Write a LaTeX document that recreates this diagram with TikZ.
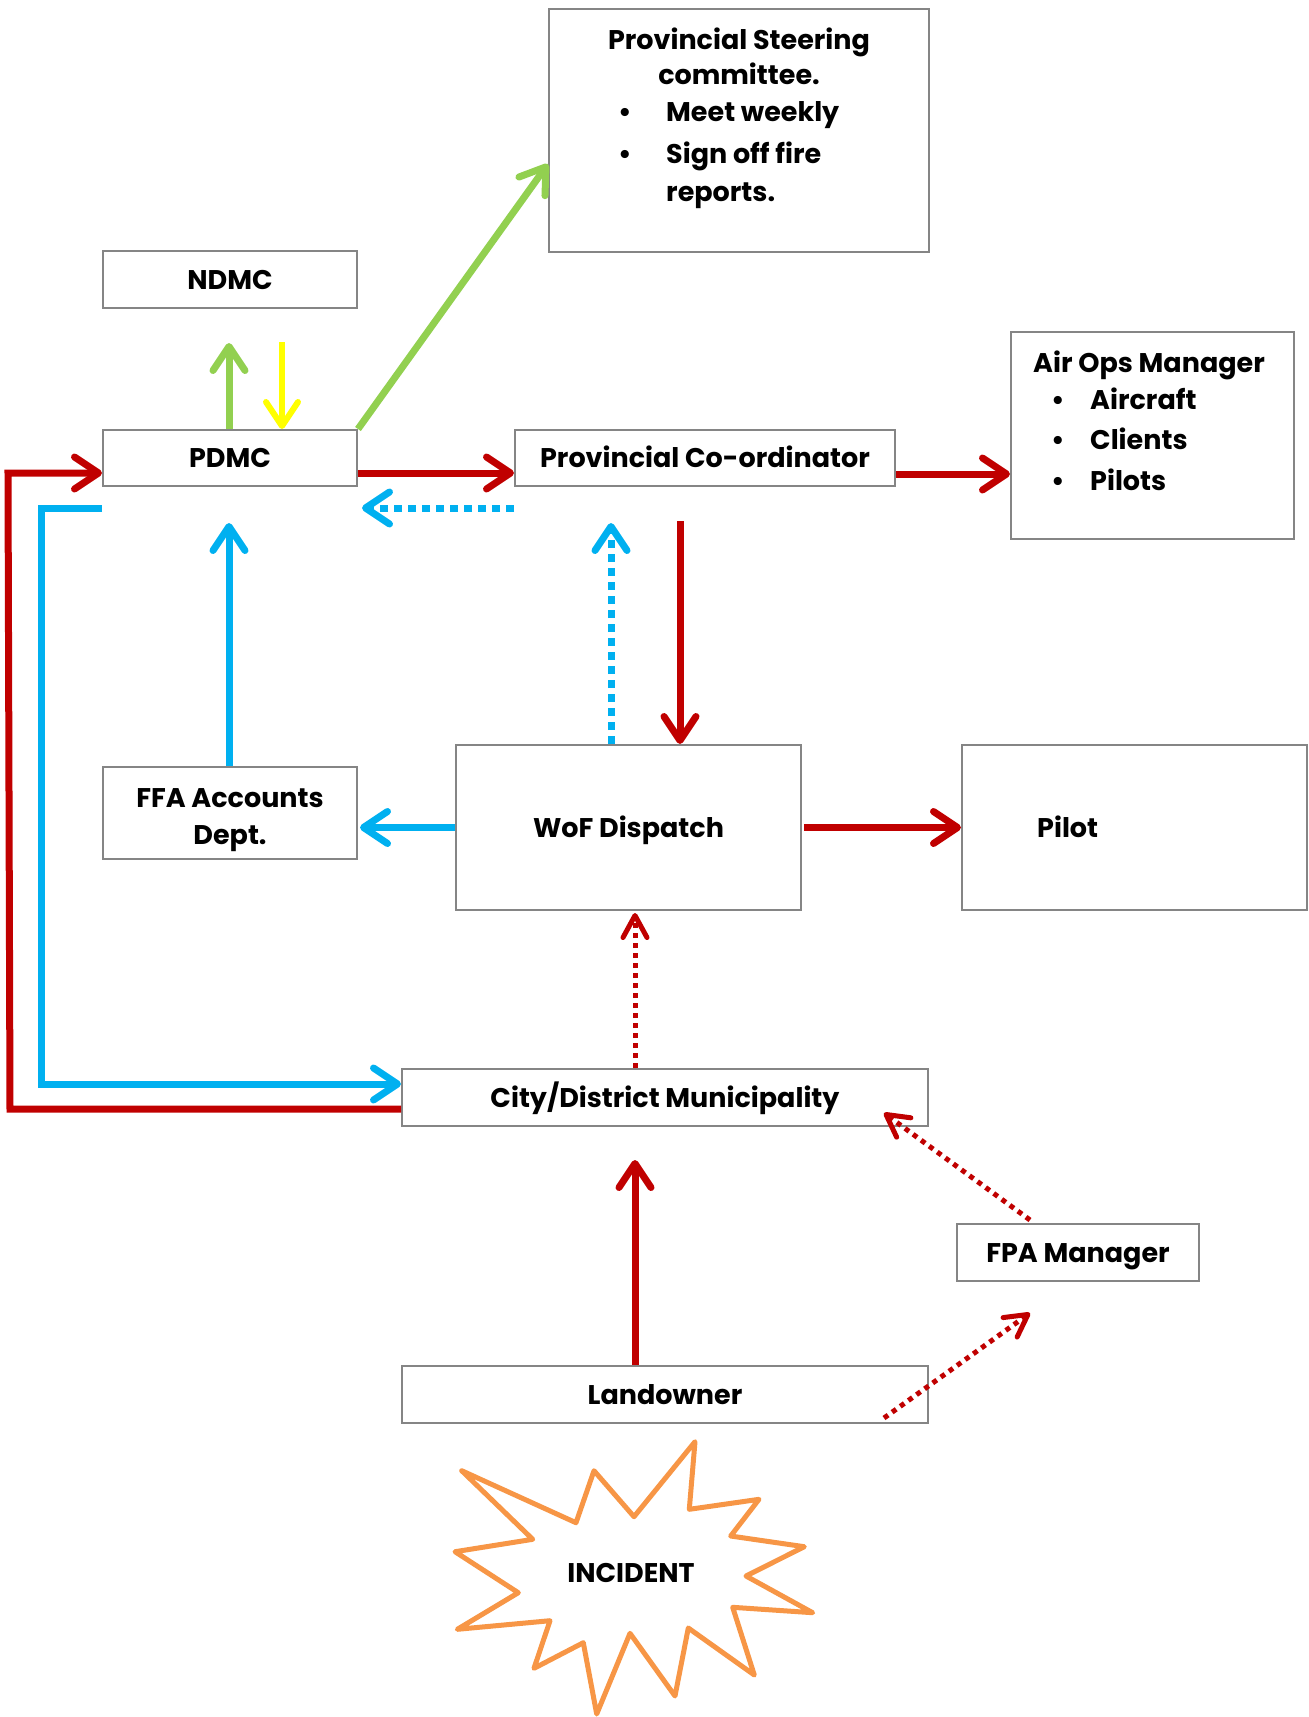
\documentclass[tikz,border=0pt]{standalone}
\usepackage{fontspec}
\setmainfont{Poppins}
\usetikzlibrary{arrows.meta,calc}

\definecolor{linered}{HTML}{C00000}
\definecolor{lineblue}{HTML}{00B0F0}
\definecolor{linegreen}{HTML}{92D050}
\definecolor{lineyellow}{HTML}{FFFF00}
\definecolor{starorange}{HTML}{F79646}
\definecolor{boxgray}{HTML}{858585}

\tikzset{
  box/.style={draw=boxgray, line width=2pt, fill=white, inner sep=0pt,
    font=\fontsize{27}{36}\selectfont\bfseries, text height=19pt, text depth=0pt},
  label/.style={inner sep=0pt, font=\fontsize{27}{36}\selectfont\bfseries},
  solidarr/.style={line width=7pt,
    -{Straight Barb[length=24pt,width=32pt,round]}},
  dotarr/.style={line width=7pt, dash pattern=on 8pt off 6pt,
    -{Straight Barb[length=24pt,width=32pt,round]}},
  smalldot/.style={line width=5pt, dash pattern=on 5pt off 5pt,
    -{Straight Barb[length=22pt,width=24pt,round]}},
}

\begin{document}
\begin{tikzpicture}[x=1pt,y=-1pt]
\useasboundingbox (0,0) rectangle (1309,1717);

% boxes
\node[box, minimum width=380pt, minimum height=243pt] (steer) at (739,130.5) {};
\node[box, minimum width=254pt, minimum height=57pt] (ndmc) at (230,279.5) {NDMC};
\node[box, minimum width=254pt, minimum height=56pt] (pdmc) at (230,458) {PDMC};
\node[box, minimum width=380pt, minimum height=56pt] (prov) at (705,458) {Provincial Co-ordinator};
\node[box, minimum width=283pt, minimum height=207pt] (airops) at (1152.5,435.5) {};
\node[box, minimum width=254pt, minimum height=92pt] (ffa) at (230,813) {};
\node[box, minimum width=345pt, minimum height=165pt] (wof) at (628.5,827.5) {WoF Dispatch};
\node[box, minimum width=345pt, minimum height=165pt] (pilot) at (1134.5,827.5) {};
\node[box, minimum width=526pt, minimum height=57pt] (city) at (665,1097.5) {City/District Municipality};
\node[box, minimum width=242pt, minimum height=57pt] (fpa) at (1078,1252.5) {FPA Manager};
\node[box, minimum width=526pt, minimum height=57pt] (land) at (665,1394.5) {Landowner};

% accounts text
\node[label, anchor=base] (ffa1) at (230,807) {FFA Accounts};
\node[label, anchor=base] (ffa2) at (230,844) {Dept.};

% steering committee text
\node[label, anchor=base] (steer1) at (739,49) {Provincial Steering};
\node[label, anchor=base] (steer2) at (739,84) {committee.};
\node[label, anchor=base] (steerb1) at (625,121) {\textbullet};
\node[label, anchor=base west] (steer3) at (666,121) {Meet weekly};
\node[label, anchor=base] (steerb2) at (625,163) {\textbullet};
\node[label, anchor=base west] (steer4) at (666,163) {Sign off fire};
\node[label, anchor=base west] (steer5) at (666,201) {reports.};

% air operations text
\node[label, anchor=base west] (air1) at (1033,372) {Air Ops Manager};
\node[label, anchor=base] (airb1) at (1058,409) {\textbullet};
\node[label, anchor=base west] (air2) at (1090,409) {Aircraft};
\node[label, anchor=base] (airb2) at (1058,449) {\textbullet};
\node[label, anchor=base west] (air3) at (1090,449) {Clients};
\node[label, anchor=base] (airb3) at (1058,490) {\textbullet};
\node[label, anchor=base west] (air4) at (1090,490) {Pilots};

% pilot text
\node[label, anchor=west, text height=19pt, text depth=0pt] (pilottext) at ([xshift=76pt]pilot.west) {Pilot};

% incident star
\draw[starorange, line width=5pt, line join=round, fill=white]
  (461.7,1470.7) -- (576,1522.7) -- (594,1470.7) -- (634,1516.7)
  -- (695,1441.7) -- (689.3,1509.3) -- (759,1499.3) -- (730.7,1536)
  -- (804.3,1546.7) -- (746,1576) -- (812.7,1612.7) -- (732.7,1607.3)
  -- (754.3,1675) -- (688.3,1628) -- (675,1696) -- (630,1633.3)
  -- (596.7,1714) -- (583.3,1642.7) -- (534,1668.3) -- (550,1620.7)
  -- (457.3,1629.3) -- (518.3,1592.7) -- (455,1551.7) -- (532.7,1539.3)
  -- cycle;
\node[label, text height=19pt, text depth=0pt] (incident) at (631,1573) {INCIDENT};

% PDMC links
\draw[solidarr, linegreen] ([xshift=-1pt]pdmc.north) -- ([xshift=-1pt,yshift=-34pt]ndmc.south);
\draw[solidarr, lineyellow, line width=6pt] ([xshift=52pt,yshift=-33pt]ndmc.south) -- ([xshift=52pt]pdmc.north);
\draw[solidarr, linegreen, line cap=butt] (pdmc.north east) -- ([yshift=-33.5pt]steer.west);
\draw[solidarr, linered] ([yshift=-15pt]pdmc.east) -- ([yshift=-15pt]prov.west);
\draw[dotarr, lineblue] ([yshift=-50pt]prov.west) -- ([xshift=4pt,yshift=-50pt]pdmc.east);

% co-ordinator links
\draw[solidarr, linered] ([yshift=-16pt]prov.east) -- ([yshift=-38.5pt]airops.west);
\draw[solidarr, linered] ([xshift=-25pt,yshift=-34pt]prov.south) -- ([xshift=51.5pt]wof.north);
\draw[dotarr, lineblue] ([xshift=-17.5pt]wof.north) -- ([xshift=-94pt,yshift=-36pt]prov.south);

% dispatch links
\draw[solidarr, lineblue] ([xshift=-1pt]ffa.north) -- ([xshift=-1pt,yshift=-36pt]pdmc.south);
\draw[solidarr, lineblue] (wof.west) -- ([xshift=2pt,yshift=-14.5pt]ffa.east);
\draw[solidarr, linered] ([xshift=2pt]wof.east) -- (pilot.west);
\draw[smalldot, linered] ([xshift=-30pt]city.north) -- ([xshift=6.5pt,yshift=-2pt]wof.south);

% municipality loops
\draw[solidarr, lineblue, line join=miter] ([yshift=-50pt]pdmc.west) -- ++(-61,0)
  |- ([yshift=13.5pt]city.west);
\draw[solidarr, linered, line join=miter] ([yshift=-11.5pt]city.west) -- ++(-391,0)
  -- ([xshift=-94pt,yshift=-15pt]pdmc.west) -- ([yshift=-15pt]pdmc.west);

% landowner and FPA links
\draw[solidarr, linered] ([xshift=-30pt]land.north) -- ([xshift=-30pt,yshift=-33pt]city.south);
\draw[smalldot, linered] ([xshift=-48pt,yshift=3pt]fpa.north) -- ([xshift=-45pt,yshift=14pt]city.south east);
\draw[smalldot, linered] ([xshift=-45pt,yshift=-53pt]land.north east) -- ([xshift=-48pt,yshift=-31pt]fpa.south);
\end{tikzpicture}
\end{document}
